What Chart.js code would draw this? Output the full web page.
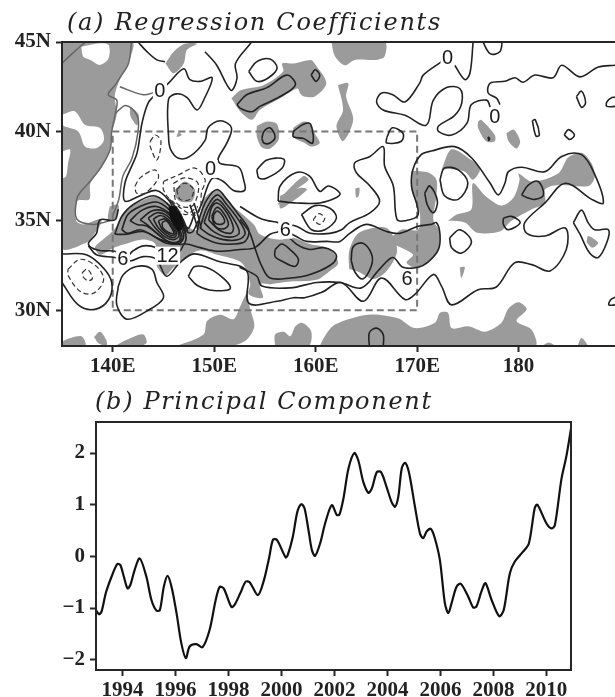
<!DOCTYPE html>
<html lang="en">
<head>
<meta charset="UTF-8">
<title>Regression Coefficients and Principal Component</title>
<script src="https://cdn.jsdelivr.net/npm/chart.js"></script>
<style>
    html, body { margin: 0; padding: 0; background: #fff; overflow: hidden; }
    #page { position: relative; width: 615px; height: 697px; }
    canvas { position: absolute; left: 0; }
    #chartA { top: 0; }
    #chartB { top: 380px; }
    .panelTitle { position: absolute; font: italic 24px "DejaVu Serif", serif; color: #222; white-space: nowrap; letter-spacing: 1.7px; line-height: 28px; }
</style>
</head>
<body>
<div id="page">
    <canvas id="chartA" width="615" height="380"></canvas>
    <canvas id="chartB" width="615" height="317"></canvas>
    <div class="panelTitle" style="left:67px; top:8px">(a) Regression Coefficients</div>
    <div class="panelTitle" style="left:95px; top:387px">(b) Principal Component</div>
</div>
<script>
// axes
const lonTicks = [140, 150, 160, 170, 180];
const lonLabels = ['140E', '150E', '160E', '170E', '180'];
const latTicks = [30, 35, 40, 45];
const latLabels = ['30N', '35N', '40N', '45N'];
const pcTicks = [-2, -1, 0, 1, 2];
const pcLabels = ['\u22122', '\u22121', '0', '1', '2'];
const yearTicks = [1994, 1996, 1998, 2000, 2002, 2004, 2006, 2008, 2010];
const yearLabels = ['1994', '1996', '1998', '2000', '2002', '2004', '2006', '2008', '2010'];

// panel b, principal component
const pcYears = [1993, 1993.11, 1993.21, 1993.37, 1993.59, 1993.8, 1993.92, 1994.05, 1994.19, 1994.3, 1994.46, 1994.65, 1994.9, 1995.09, 1995.28, 1995.41, 1995.56, 1995.7, 1995.85, 1996.04, 1996.22, 1996.39, 1996.54, 1996.79, 1997.02, 1997.29, 1997.52, 1997.67, 1997.82, 1998.11, 1998.23, 1998.45, 1998.65, 1998.8, 1999.11, 1999.34, 1999.53, 1999.68, 1999.83, 2000.16, 2000.24, 2000.43, 2000.6, 2000.75, 2000.87, 2001.02, 2001.15, 2001.27, 2001.46, 2001.65, 2001.9, 2002.09, 2002.19, 2002.34, 2002.53, 2002.75, 2002.9, 2003.09, 2003.28, 2003.41, 2003.6, 2003.76, 2003.97, 2004.16, 2004.29, 2004.41, 2004.54, 2004.66, 2004.81, 2005.04, 2005.23, 2005.35, 2005.48, 2005.64, 2005.79, 2005.98, 2006.17, 2006.3, 2006.42, 2006.61, 2006.77, 2007.05, 2007.24, 2007.36, 2007.55, 2007.7, 2007.93, 2008.22, 2008.39, 2008.62, 2008.81, 2009.12, 2009.34, 2009.56, 2009.66, 2010, 2010.19, 2010.32, 2010.57, 2010.76, 2010.93];
const pcValues = [-1.04, -1.12, -1.07, -0.71, -0.39, -0.15, -0.17, -0.39, -0.62, -0.55, -0.26, -0.04, -0.39, -0.84, -1.05, -1.04, -0.59, -0.38, -0.59, -1.1, -1.68, -1.97, -1.74, -1.7, -1.76, -1.42, -0.84, -0.59, -0.62, -0.98, -0.94, -0.71, -0.49, -0.5, -0.75, -0.46, -0.04, 0.32, 0.32, -0.02, 0.03, 0.38, 0.86, 1.01, 0.93, 0.51, 0.12, 0.01, 0.25, 0.64, 0.99, 0.8, 0.81, 1.12, 1.7, 2, 1.86, 1.44, 1.23, 1.31, 1.63, 1.63, 1.34, 1.05, 0.96, 1.15, 1.7, 1.81, 1.63, 0.96, 0.44, 0.35, 0.48, 0.53, 0.35, -0.07, -0.91, -1.1, -0.91, -0.59, -0.53, -0.78, -0.99, -0.97, -0.68, -0.52, -0.84, -1.16, -1.04, -0.33, -0.1, 0.09, 0.25, 0.93, 1, 0.64, 0.54, 0.6, 1.5, 1.95, 2.47];

// panel a, shaded areas [lon, lat]
const shadeLand = [[135, 45], [141.9, 45], [141.5, 43.8], [140.7, 42.9], [140.2, 42], [140.4, 41], [139.9, 39.9], [139.7, 39], [138.9, 38], [137.8, 37.1], [137.7, 36.2], [136.5, 36.1], [136.4, 35], [137.1, 34.8], [138.75, 35.1], [138.9, 34.9], [138.1, 34.2], [137.5, 33.8], [135, 33.5]];
const shadeBand = [[138.5, 33.7], [140.2, 34.55], [141.05, 35.45], [144, 36.35], [146, 35.7], [147, 34.85], [148.3, 34.5], [149, 36.2], [150.3, 36.75], [151.9, 35.8], [153.9, 34.8], [154.5, 34.25], [156.3, 33.95], [157.8, 34.05], [159.4, 33.7], [161.1, 33.5], [161.9, 33.1], [162.2, 32.6], [161.4, 32.2], [160.1, 31.7], [157.5, 31.6], [155.5, 31.45], [154.5, 31.45], [154.8, 30.7], [153.4, 30.9], [153.55, 31.5], [152.7, 32.65], [150.3, 33.1], [148.6, 33.35], [147.1, 32.9], [146, 32.4], [145.2, 31.95], [144.3, 32.55], [144.2, 33.7], [143, 33.95], [141.5, 33.75], [140.1, 33.5], [138.75, 33.1], [138.25, 33.5]];
const shadeBand2 = [[163.3, 32.3], [163.3, 33.3], [164.1, 34.25], [165.6, 34.6], [167, 34.6], [167.8, 33.95], [168, 33.2], [167, 32.2], [165.7, 31.75], [164.4, 32.1]];
const shadeMid = [[169.45, 37.8], [171.1, 37.7], [171.9, 37.3], [171.9, 36.4], [171.6, 35.05], [172.25, 34.35], [171.9, 33.2], [170.1, 32.35], [168.95, 32.65], [169.6, 33.1], [168.45, 33.5], [167.3, 33.85], [168.45, 34.5], [170.1, 34.5], [170.25, 35.45], [169.45, 36.75]];
const shadeEast = [[173.05, 35], [173.9, 35.35], [175.35, 35.65], [175.5, 37.1], [176.7, 36.4], [178.3, 35.85], [179.5, 36.3], [180.1, 37.3], [180, 37.65], [181.3, 37.2], [183.9, 37.65], [184.9, 38.55], [186.2, 38.8], [187.2, 38.2], [187.5, 37.45], [186.9, 36.95], [183.9, 37], [182.6, 36.75], [182.6, 36], [181.3, 35.65], [179.3, 35], [178.15, 34.4], [175.85, 34.35], [174.7, 34.9]];
const shadeEast2 = [[172.4, 37.85], [173.4, 39], [175.35, 38.4], [176.2, 37.9], [175.5, 37.3], [174.7, 37.75], [173.05, 37.9]];
const shadeNorthA = [[151.7, 41.85], [152.6, 42.3], [154.9, 42.6], [156.8, 43.35], [156.7, 43.8], [157.8, 43.8], [159.5, 44], [159.9, 43.8], [161.05, 42.7], [159.9, 41.95], [158.85, 41.95], [158.5, 42.1], [158.2, 42.4], [156.5, 41.85], [154.5, 41.2], [153.7, 40.65], [152.6, 41.1]];
const shadeNorthB = [[154.2, 40.3], [155.2, 40.55], [156.2, 40.4], [156.35, 39.55], [155.5, 39.05], [154.7, 39.1], [154.2, 39.7]];
const shadeNorthC = [[157.8, 40.2], [158.8, 40.55], [159.5, 40.45], [159.9, 39.9], [160.4, 39.35], [159.6, 39.15], [158.9, 39.35], [157.8, 39.7]];
const shadeNorthD = [[161.55, 45], [166.8, 45], [166.8, 44.2], [166, 44], [163.85, 44], [162.85, 43.7], [161.9, 44.2]];
const shadeNorthE = [[162.2, 42.6], [163.2, 42.7], [163, 41.95], [163.7, 40.65], [162.7, 39.45], [162.05, 40.3], [162.7, 41.2]];
const shadeHokkaido = [[145.2, 43.8], [146, 44.45], [147.1, 44.9], [148.3, 44.9], [147.3, 44.55], [147, 43.8], [146, 43.25]];
const shadeIsle1 = [[141.7, 41.4], [142.55, 40.95], [142.4, 40.35], [141.75, 40.85]];
const shadeIsle2 = [[139.7, 35.8], [140.55, 35.9], [140.4, 35.2], [139.55, 35.1]];
const shadeSmall1 = [[176, 40.55], [176.3, 40.65], [177.65, 39.8], [177.65, 39.45], [176.8, 39.45], [176, 40.2]];
const shadeSmall2 = [[178.8, 39.9], [179.5, 40.1], [180.15, 39.45], [179.8, 39.05], [179, 39.45]];
const shadeSmall3 = [[156.5, 36.4], [158.5, 36.85], [159.15, 36.75], [157.5, 36], [156.5, 35.7]];
const shadeSmall4 = [[156.8, 36.45], [158.8, 37.5], [159.3, 37.3], [158.1, 36.75], [157.3, 36.2], [156.3, 35.9]];
const shadeSmall5 = [[146.15, 36.75], [147.1, 37.2], [148.1, 36.75], [147.8, 36.1], [146.6, 36.1], [146.15, 36.4]];
const shadeSmall6 = [[186.7, 33.8], [186.85, 34.15], [187.5, 33.95], [187.85, 33.75], [187.25, 33.5]];
const shadeSmall7 = [[174.2, 32.4], [174.7, 32.4], [174.35, 31.8]];
const shadeSmall8 = [[146.5, 40], [146.8, 39.8], [146.3, 39.7]];
const shadeSmall9 = [[163.9, 36.8], [164.3, 36.85], [164.25, 36.4], [164, 36.3]];
const shadeSouth1 = [[135, 28], [135, 28.25], [136.9, 28.55], [137.3, 28]];
const shadeSouth2 = [[138.15, 28.5], [138.75, 28.8], [139.35, 28.35], [139.4, 28], [138.6, 28.15]];
const shadeSouth3 = [[140.2, 28], [141.4, 28.35], [143, 28.65], [143.35, 28.2], [142.7, 28]];
const shadeSouth4 = [[146.3, 28], [148.95, 28.65], [149.3, 29.4], [150.6, 29.75], [151.9, 29.5], [152.55, 30.2], [153.2, 30.9], [153.55, 30.05], [153.95, 29.1], [153.2, 28.35], [151.6, 28]];
const shadeSouth5 = [[156, 28], [156, 28.65], [156.85, 28.8], [157.5, 28.55], [158, 29.1], [158.65, 29.3], [159.5, 28.9], [159.6, 28.4], [159.3, 28]];
const shadeSouth6 = [[160.4, 28], [160.9, 28.55], [161.9, 29.2], [165.15, 29.75], [168.1, 29.55], [169.75, 29], [171.75, 29.3], [172.25, 29.85], [173.05, 29.85], [173.4, 29], [175.05, 29.1], [176.7, 28.8], [178.3, 29.3], [179, 30.1], [180, 30.45], [180.8, 30.05], [179.8, 29.4], [181.3, 28.9], [181.6, 28]];
const shadeSouth7 = [[182.3, 28], [182.95, 28.2], [183.6, 28]];
const shadeSouth8 = [[185.8, 28], [186.2, 28.45], [186.8, 28]];
// white gaps inside the land shading
const gapLand1 = [[136.9, 44.74], [138.75, 44.93], [139.6, 44.83], [139.6, 44.09], [138.75, 43.72], [137.8, 44], [137.1, 44.18]];
const gapLand2 = [[135, 40.93], [136.28, 41.12], [137.27, 40.37], [138.75, 40.19], [139.14, 39.54], [138.42, 39.07], [137.27, 39.16], [136.6, 40], [135, 40.37]];
const gapLand3 = [[135, 38.88], [135.8, 38.98], [135.6, 38.23], [135.4, 37.49], [135, 37.4]];
// black knot on the front
const shadeKnot = [[145.5, 35.8], [146.3, 35.8], [147, 34.75], [146.5, 34.4], [145.7, 35.1]];

// panel a, solid contours
const lineMain0a = [[146.1, 35.4], [145.6, 36.1], [144.3, 36.7], [142.7, 36.4], [141.2, 36.1], [141.2, 37.1], [141.9, 38.1], [142.4, 38.8], [142.9, 40.5], [143.5, 41.6], [144.3, 42.1], [145.5, 42.7], [147, 43.5], [147.6, 42.9], [148.6, 42.8], [149.8, 43], [149, 41.8], [148.3, 41.2], [147.3, 41.9], [146.3, 42.1], [145.5, 41.8], [145.5, 39.7], [145.7, 39], [146.5, 38.5], [147.6, 38.6], [149.1, 39.5], [149.4, 40.2], [150.6, 40.6], [151.7, 40.2], [151.2, 39.3], [150.4, 38.5], [150.6, 38.2], [152.4, 38], [152.9, 37.3], [153, 36.7], [151.9, 36.7], [150.9, 37.2], [149.9, 37.4], [149.4, 37], [148.8, 36], [148.4, 35.5]];
const lineTopDip = [[149.1, 44.45], [150.25, 43.7], [151.25, 42.6], [151.75, 42.3], [152.25, 43], [152.1, 43.8], [153.55, 44.9], [153.8, 45.1]];
const lineCoastN = [[142.5, 45], [143.3, 44.5], [144.35, 44], [145.15, 43.9]];
const lineOvalA = [[153.4, 43.35], [154.2, 43.9], [155.5, 44.05], [156.2, 43.55], [155.35, 43], [154.2, 42.8], [153.4, 43.35]];
const lineOvalB = [[152.25, 41.5], [153.2, 42.05], [155.2, 42.45], [157.15, 43.15], [158, 42.6], [156.5, 41.95], [154.5, 41.4], [153.7, 41.1], [152.55, 41.3], [152.25, 41.5]];
const lineOvalC = [[154.7, 39.6], [154.9, 40], [155.5, 40.2], [156, 39.7], [155.5, 39.35], [154.9, 39.35], [154.7, 39.6]];
const lineOvalD = [[157.8, 40], [158.8, 40.4], [159.5, 40.4], [159.7, 39.35], [158.8, 39.6], [157.8, 39.7], [157.8, 40]];
const lineOvalE = [[154.2, 37.85], [155.2, 38.4], [156.85, 38.45], [156.7, 37.95], [155.2, 37.4], [154.4, 37.4], [154.2, 37.85]];
const lineOvalF = [[159.55, 43.15], [159.95, 43.45], [160.4, 43.15], [160.05, 42.8], [159.55, 43.15]];
const lineOvalG = [[156.3, 36.1], [156.5, 36.95], [158.1, 37.7], [159.4, 37.5], [160.4, 36.65], [161.25, 36.95], [162.4, 36.55], [162.05, 36.3], [160.4, 36], [158.1, 36], [156.3, 36.1]];
const lineNorth0 = [[172.4, 43.9], [170.6, 43.15], [170.25, 42.7], [168.8, 41.65], [167.6, 42.05], [166.5, 42.15], [166, 41.65], [166.65, 41.2], [168.8, 40.9], [170.9, 40.35], [171.6, 41.75], [172.9, 42.45], [174.2, 42.4], [174.4, 41.6], [173.7, 40.9], [172.1, 40.3], [172.1, 40], [173.4, 39.8], [174.9, 40.45], [175.35, 41.5], [176.85, 41.75], [177.2, 41.35]];
const lineNorth0b = [[173.7, 43.7], [174.7, 42.9], [175.2, 43.25], [175.5, 44.9], [175.5, 45.1]];
const lineTopLoop = [[176.4, 45.1], [177.2, 44.35], [178.15, 44.45], [178.4, 45.1]];
const lineNorthEast = [[178.15, 41.5], [177.85, 41.85], [177, 42.15], [177.2, 42.7], [178.65, 42.8], [179.65, 43], [180.45, 42.75], [181.6, 43.15], [183.4, 43], [184.25, 43.7], [186.05, 43.05], [187.85, 43.6], [189.5, 43.7]];
const lineSmallA = [[185.7, 41.95], [186.2, 42.25], [186.6, 41.6], [186.2, 41.35], [185.7, 41.95]];
const lineSmallB = [[189.6, 41.9], [189.2, 41.9], [188.7, 41.65], [188.7, 41.4], [189.6, 41.4]];
const lineSmallC = [[181.35, 40.6], [181.65, 40.65], [182.05, 39.8], [181.7, 39.75], [181.35, 40.6]];
const lineSmallD = [[184.5, 39.8], [184.9, 40.1], [185.5, 39.8], [185.05, 39.55], [184.5, 39.8]];
const lineSmallE = [[167, 39.65], [167.55, 40.2], [168.6, 39.9], [168.45, 39.45], [167, 39.35], [167, 39.65]];
const lineSmallF = [[177, 39.7], [177.15, 39.6], [177.05, 39.5], [177, 39.7]];
const lineLoopG = [[172.25, 37.3], [172.7, 37.95], [174.05, 37.85], [175, 37.1], [174.05, 36.2], [172.7, 36.4], [172.25, 37.3]];
const lineLoopH = [[180.3, 36.45], [180.95, 37], [181.95, 37.2], [182.45, 36.45], [181.6, 36.2], [180.8, 36.3], [180.3, 36.45]];
const lineLoopI = [[178.5, 35.15], [179.3, 35.25], [180.15, 34.9], [179, 34.5], [178.5, 34.8], [178.5, 35.15]];
const lineLoopJ = [[173.2, 34.05], [174.2, 34.5], [175.35, 33.85], [174.4, 33.2], [173.4, 33.5], [173.2, 34.05]];
const lineLoopK = [[163.5, 32.8], [163.7, 33.55], [164.65, 33.75], [165.5, 33.15], [165.5, 32.5], [164.65, 31.75], [163.85, 32.15], [163.5, 32.8]];
const lineLoopL = [[185.4, 34.9], [186.2, 35.6], [186.85, 34.9], [187.5, 34.5], [188.85, 34.5], [188.7, 33.8], [187.85, 32.95], [187, 33.2], [186.05, 34.25], [185.4, 34.9]];
const lineLoopM = [[170.75, 36.55], [171.25, 36.95], [172, 36.1], [171.6, 35.45], [171, 35.9], [170.75, 36.55]];
const lineLoopN = [[158.6, 35.35], [159.95, 35.85], [161.4, 35.7], [162.05, 35.15], [160.9, 34.5], [159.6, 34.5], [158.6, 35.35]];
const lineLoopO = [[156, 33.4], [156.65, 33.7], [157.45, 33.4], [158.3, 32.85], [157.95, 32.45], [156.65, 32.75], [156, 33], [156, 33.4]];
const lineLoopP = [[165.3, 27.9], [165.3, 28.75], [166, 29], [166.65, 28.65], [166.65, 27.9]];
const lineLoopQ = [[140.55, 31.35], [141.05, 32], [142.35, 32.45], [143.85, 32.3], [144.35, 31.55], [145, 30.7], [143.35, 29.95], [141.4, 29.5], [140.4, 30.3], [140.55, 31.35]];
const lineLoopR = [[147.45, 31.9], [148.1, 32.45], [149.95, 32.2], [151.6, 31.25], [149.95, 31.1], [148.3, 31.4], [147.45, 31.9]];
const lineLoopS = [[135, 33.15], [137.4, 33.1], [139.1, 32.35], [139.9, 31.55], [139.6, 30.6], [138.25, 30.05], [136.6, 30.3], [135, 31.55]];
const lineEdge = [[189.6, 30.75], [189.1, 30.6], [188.9, 30.3], [189.6, 30.3]];
const lineWave = [[137.6, 33.6], [138.4, 33.1], [140.2, 32.95], [141.7, 32.75], [143, 33], [144.3, 32.85], [145.3, 31.9], [146.6, 32.65], [148, 33.15], [150.3, 32.75], [153.2, 32.2], [153.4, 30.4], [156.2, 30.5], [157.8, 30.7], [158.9, 30.7], [160.6, 31], [162.5, 31.55], [164.7, 30.5], [166.5, 31.8], [168.8, 30.6], [169.8, 30.9], [171.6, 32], [172.4, 31.35], [173.4, 30.3], [176, 31.15], [177.8, 31.3], [179.6, 32.65], [181.3, 32.55], [183.1, 32.2], [184.7, 33.4], [184.6, 34.6], [182.6, 34.15], [180.8, 34.3], [180.6, 34.9], [182.6, 36], [184.6, 37.1], [187.2, 36.2], [188.35, 36], [187.5, 37.6], [186.2, 38.7], [184.25, 38.6], [182.6, 37.75], [180.3, 38], [179, 37.75], [178.65, 37.1], [178, 36.45], [177.2, 37.1], [175.4, 38.5], [173.7, 39.15], [171.4, 38.9], [170.4, 38.7], [169.6, 37.9], [169.45, 36.93], [170.1, 35.35], [168.8, 35], [168, 35.1], [167.65, 36.95], [166.8, 38.05], [166.65, 39.15], [165.35, 38.6], [163.85, 38.25], [164, 37.7], [165.35, 36.95], [166.3, 36.1], [165.35, 35.45], [163.35, 34.9], [162.55, 34.5], [161.4, 34.3], [159.45, 34.3], [158.1, 34.7], [156.3, 34.9], [154.5, 35.15], [152.55, 35.8]];
const lineFront6a = [[152.5, 32.4], [154.2, 31.9], [154.7, 31.35], [157.5, 31.25], [160.1, 31.55], [162.4, 31.55], [164.5, 31.25], [166.3, 32.3], [167.6, 32.95], [168.6, 32.4], [170.1, 32.4], [171.1, 32.7], [172.1, 33.4], [172.25, 34.25], [171.9, 34.9], [171.4, 34.8], [170.1, 34.7], [168.3, 34.3], [167, 34.4], [165, 34.8], [163.35, 34.3], [162.4, 33.85], [161.1, 33.85], [159.1, 33.85], [158, 34.15], [157.1, 34.4]];
const lineFront6b = [[140.55, 35.65], [140.2, 35.05], [138.75, 35.05], [138.4, 34.3], [137.6, 33.7], [138.6, 33.35], [140.2, 33.3], [141.4, 33], [141.95, 33.3], [143, 33.6], [144.3, 33.5], [145.3, 33.1], [146.6, 33.3], [147.1, 33.7], [148.6, 33.5], [150.3, 33.3], [152.55, 33.4], [154, 33.5], [155.5, 34.25], [156.5, 34.4]];
const lineFront9 = [[152.55, 35.07], [153.5, 34.33], [154, 33.5], [154.7, 32.45], [155.5, 31.8], [157.5, 31.8], [159.45, 32], [161.4, 32.5], [162.05, 32.95], [161.7, 33.3], [160.75, 33.5], [159.4, 33.4], [158.1, 33.7], [157.1, 34.25]];
const lineWestA = [[140.2, 34.25], [140.9, 35.25], [142, 35.9], [144, 36.4], [145.5, 35.9], [146.3, 35.25], [147.1, 34.5], [147.1, 33.75], [146.3, 33.7], [144.7, 33.95], [143, 34.4], [141.4, 34.25], [140.2, 34.25]];
const lineWestB = [[140.9, 34.5], [141.5, 35.35], [142.7, 35.8], [144.3, 36.05], [145.5, 35.65], [146.5, 34.9], [147, 34.15], [146.6, 33.75], [145.3, 33.75], [144, 34.15], [142.7, 34.5], [141.5, 34.3], [140.9, 34.5]];
const lineWestC = [[141.7, 35], [142.9, 35.6], [144.3, 35.8], [145.7, 35.35], [146.6, 34.5], [146.8, 33.95], [145.8, 33.75], [144.7, 34.15], [143.4, 34.7], [142.4, 34.8], [141.7, 35]];
const lineWestD = [[142.7, 35.05], [143.85, 35.55], [145, 35.55], [146, 35.05], [146.6, 34.3], [146.5, 33.85], [145.5, 33.85], [144.35, 34.3], [143.35, 34.8], [142.7, 35.05]];
const lineWestE = [[143.5, 35.15], [144.35, 35.45], [145.3, 35.3], [146.15, 34.7], [146.5, 34.15], [146, 33.95], [145.15, 34.1], [144.2, 34.6], [143.5, 35.15]];
const lineWestF = [[144, 35.1], [144.7, 35.3], [145.5, 35.05], [146.25, 34.4], [146.15, 34.1], [145.4, 34.15], [144.5, 34.6], [144, 35.1]];
const lineWestG = [[144.5, 35], [145.15, 35.1], [145.8, 34.7], [146.15, 34.25], [145.65, 34.2], [144.85, 34.55], [144.5, 35]];
const lineWestH = [[144.85, 34.9], [145.3, 35], [145.9, 34.5], [146, 34.3], [145.5, 34.35], [144.95, 34.6], [144.85, 34.9]];
const lineEastA = [[148.3, 34.3], [148.6, 35.25], [149.3, 36.2], [150.3, 36.75], [151.25, 36.2], [152.25, 35.45], [153.4, 34.5], [153.05, 33.85], [151.9, 33.7], [150.3, 33.75], [148.95, 34.05], [148.3, 34.3]];
const lineEastB = [[148.6, 34.6], [149.3, 35.75], [150.3, 36.45], [151.25, 35.9], [152.4, 35.05], [153.05, 34.3], [152.4, 33.95], [150.9, 33.95], [149.45, 34.25], [148.6, 34.6]];
const lineEastC = [[149, 34.9], [149.6, 35.75], [150.3, 36.2], [151.25, 35.65], [152.3, 34.7], [152.4, 34.25], [151.25, 34.1], [149.95, 34.4], [149, 34.9]];
const lineEastD = [[149.45, 35.05], [149.75, 35.75], [150.3, 36], [151.25, 35.45], [151.9, 34.6], [151.6, 34.3], [150.45, 34.5], [149.45, 35.05]];
const lineEastE = [[149.75, 35.25], [150.25, 35.75], [150.9, 35.45], [151.4, 34.8], [150.9, 34.55], [150.1, 34.7], [149.75, 35.25]];
const lineEastF = [[149.95, 35.35], [150.3, 35.55], [150.85, 35.25], [151, 34.9], [150.45, 34.8], [149.95, 35], [149.95, 35.35]];
const lineSaddleA = [[146.7, 35.4], [147.1, 34.75], [147.5, 34.6], [148.1, 35.5]];
const lineSaddleB = [[146.9, 34.9], [147.4, 34.35], [147.9, 34.4], [148.4, 35]];
const lineFanA = [[145.3, 36], [146, 35.6], [146.7, 34.9], [147.2, 34.2]];
const lineFanB = [[145.6, 36.2], [146.4, 35.6], [147, 35], [147.4, 34.4]];
const lineFanC = [[147.6, 35.9], [148.1, 35.1], [148.4, 34.5]];
const lineFanD = [[148, 36], [148.4, 35.3], [148.7, 34.6]];

// panel a, dashed contours
const dashA = [[142.2, 36.95], [142.7, 37.4], [144.15, 37.85], [144.5, 37.4], [143.2, 36.55], [142.35, 36.55], [142.2, 36.95]];
const dashB = [[145, 37.2], [146.6, 37.6], [148.1, 37.95], [149.1, 37.3], [148.75, 36.6], [148.6, 35.65], [147.95, 35.3], [145.65, 36.2], [145, 36.75], [145, 37.2]];
const dashC = [[146, 37.1], [147.1, 37.4], [148.4, 37.1], [148.1, 36], [147.45, 35.75], [146.3, 36], [146, 37.1]];
const dashD = [[146.3, 36.75], [147.1, 37.1], [147.95, 36.75], [147.6, 36.2], [146.65, 36.2], [146.3, 36.75]];
const dashE = [[143.7, 39.45], [144.2, 39.8], [144.75, 39.45], [144.35, 38.4], [143.7, 39.15], [143.7, 39.45]];
const dashF = [[135.6, 32.3], [136.8, 32.85], [138.4, 32.45], [139.1, 31.7], [138.1, 30.95], [136.8, 31.05], [135.6, 31.95], [135.6, 32.3]];
const dashG = [[137, 32.1], [137.5, 32.3], [138, 31.8], [137.6, 31.65], [137.1, 31.85], [137, 32.1]];
const dashH = [[159.75, 35.05], [160.3, 35.4], [160.9, 35.15], [160.4, 34.8], [159.75, 35.05]];
const dashI = [[145.8, 36], [147.1, 35.35], [148.4, 35.8]];

// panel a, coast and analysis box
const coastJapan = [[141.85, 45], [141.55, 43.8], [140.7, 43], [140.25, 42.6], [139.55, 42.05], [140.4, 41.75], [140.25, 41], [139.9, 40], [139.75, 39], [138.9, 38.05], [137.75, 37.2], [136.8, 36.6], [136.45, 36.2], [136.45, 35.1], [138.1, 34.8], [139.7, 35]];
const coastAsia = [[135, 43.8], [136, 44.35], [137.3, 45]];
const coastHokkaido = [[140.7, 42.5], [143, 42.05], [144.2, 42.2]];
const coastHonshu = [[140.25, 41], [141.3, 41.45], [142.4, 40.9], [142.5, 40], [141.9, 38.5], [141, 37.5], [140.6, 36.2], [140, 35.3]];
const boxLon = [140, 170, 170, 140, 140];
const boxLat = [30, 30, 40, 40, 30];

// contour labels
const labelLon = [144.65, 149.65, 173, 177.65, 141, 145.4, 157, 169];
const labelLat = [42.3, 37.9, 44.15, 40.85, 32.9, 33.05, 34.5, 31.8];
const labelText = ['0', '0', '0', '0', '6', '12', '6', '6'];

const shades = [shadeLand, shadeBand, shadeBand2, shadeMid, shadeEast, shadeEast2, shadeNorthA, shadeNorthB, shadeNorthC, shadeNorthD, shadeNorthE, shadeHokkaido, shadeIsle1, shadeIsle2, shadeSmall1, shadeSmall2, shadeSmall3, shadeSmall4, shadeSmall5, shadeSmall6, shadeSmall7, shadeSmall8, shadeSmall9, shadeSouth1, shadeSouth2, shadeSouth3, shadeSouth4, shadeSouth5, shadeSouth6, shadeSouth7, shadeSouth8];
const gaps = [gapLand1, gapLand2, gapLand3];
const solids = [lineMain0a, lineTopDip, lineCoastN, lineOvalA, lineOvalB, lineOvalC, lineOvalD, lineOvalE, lineOvalF, lineOvalG, lineNorth0, lineNorth0b, lineTopLoop, lineNorthEast, lineSmallA, lineSmallB, lineSmallC, lineSmallD, lineSmallE, lineSmallF, lineLoopG, lineLoopH, lineLoopI, lineLoopJ, lineLoopK, lineLoopL, lineLoopM, lineLoopN, lineLoopO, lineLoopP, lineLoopQ, lineLoopR, lineLoopS, lineEdge, lineWave, lineFront6a, lineFront6b, lineFront9, lineWestA, lineWestB, lineWestC, lineWestD, lineWestE, lineWestF, lineWestG, lineWestH, lineEastA, lineEastB, lineEastC, lineEastD, lineEastE, lineEastF, lineSaddleA, lineSaddleB, lineFanA, lineFanB, lineFanC, lineFanD];
const dashes = [dashA, dashB, dashC, dashD, dashE, dashF, dashG, dashH, dashI];
const coasts = [coastJapan, coastAsia, coastHokkaido, coastHonshu];

const tickFont = { family: '"Liberation Serif", serif', size: 21, weight: 'bold' };

function toPoints(list) {
    return list.map(function (p) { return { x: p[0], y: p[1] }; });
}

function lineSet(list, color, width, order, dash) {
    return {
        data: toPoints(list), showLine: true, fill: false, borderColor: color, borderWidth: width,
        borderDash: dash || [], pointRadius: 0, tension: 0.35, order: order
    };
}

function fillSet(list, color, order) {
    return {
        data: toPoints(list.concat([list[0]])), showLine: true, fill: 'shape', backgroundColor: color,
        borderColor: color, borderWidth: 0, pointRadius: 0, tension: 0.3, order: order
    };
}

// frame round the plot
const framePlugin = {
    id: 'frame',
    afterDraw: function (chart) {
        const a = chart.chartArea, ctx = chart.ctx;
        ctx.save();
        ctx.strokeStyle = '#262626';
        ctx.lineWidth = 2;
        ctx.strokeRect(a.left, a.top, a.right - a.left + (chart.canvas.id === 'chartA' ? 4 : 0), a.bottom - a.top);
        ctx.restore();
    }
};

// contour labels sit in white boxes, through the chart scales
const labelPlugin = {
    id: 'contourLabels',
    afterDatasetsDraw: function (chart) {
        const ctx = chart.ctx;
        ctx.save();
        ctx.font = '20px "Liberation Sans", sans-serif';
        ctx.textAlign = 'center';
        ctx.textBaseline = 'middle';
        labelText.forEach(function (t, i) {
            const x = chart.scales.x.getPixelForValue(labelLon[i]);
            const y = chart.scales.y.getPixelForValue(labelLat[i]);
            const w = ctx.measureText(t).width + 3;
            ctx.fillStyle = '#fff';
            ctx.fillRect(x - w / 2, y - 9, w, 18);
            ctx.fillStyle = '#1a1a1a';
            ctx.fillText(t, x, y + 1);
        });
        ctx.restore();
    }
};

function axis(min, max, ticks, labels, isX, fixed) {
    return {
        type: 'linear', min: min, max: max,
        afterBuildTicks: function (s) { s.ticks = ticks.map(function (v) { return { value: v }; }); },
        afterFit: function (s) { if (isX) { s.height = fixed; } else { s.width = fixed; } },
        grid: { drawOnChartArea: false, tickLength: 6, tickColor: '#262626', tickWidth: 2 },
        border: { color: '#262626', width: 2 },
        ticks: {
            autoSkip: false, maxRotation: 0, color: '#222', font: tickFont, padding: isX ? 2 : 5,
            callback: function (v) { return labels[ticks.indexOf(v)]; }
        }
    };
}

const setsA = [];
dashes.forEach(function (d) { setsA.push(lineSet(d, '#333', 1.2, 2, [5, 3])); });
solids.forEach(function (s) { setsA.push(lineSet(s, '#222', 1.6, 3)); });
setsA.push(lineSet(boxLon.map(function (v, i) { return [v, boxLat[i]]; }), '#777', 2, 4, [7, 4]));
setsA[setsA.length - 1].tension = 0;
coasts.forEach(function (c) { setsA.push(lineSet(c, '#666', 1.5, 5)); });
setsA.push(fillSet(shadeKnot, '#111', 2.5));
gaps.forEach(function (g) { setsA.push(fillSet(g, '#fff', 7)); });
shades.forEach(function (s) { setsA.push(fillSet(s, '#9b9b9b', 8)); });

new Chart(document.getElementById('chartA'), {
    type: 'scatter',
    data: { datasets: setsA },
    options: {
        responsive: false, animation: false, events: [],
        layout: { padding: { top: 42, right: 0, bottom: 0, left: 0 } },
        plugins: { legend: { display: false }, tooltip: { enabled: false } },
        scales: {
            x: axis(135, 189.5, lonTicks, lonLabels, true, 34),
            y: axis(28, 45, latTicks, latLabels, false, 62)
        }
    },
    plugins: [framePlugin, labelPlugin]
});

new Chart(document.getElementById('chartB'), {
    type: 'scatter',
    data: {
        datasets: [{
            data: pcYears.map(function (y, i) { return { x: y, y: pcValues[i] }; }),
            showLine: true, borderColor: '#111', borderWidth: 2.2, pointRadius: 0, tension: 0.3
        }]
    },
    options: {
        responsive: false, animation: false, events: [],
        layout: { padding: { top: 42, right: 44, bottom: 0, left: 0 } },
        plugins: { legend: { display: false }, tooltip: { enabled: false } },
        scales: {
            x: axis(1993, 2010.93, yearTicks, yearLabels, true, 27),
            y: axis(-2.2, 2.6, pcTicks, pcLabels, false, 96)
        }
    },
    plugins: [framePlugin]
});
</script>
</body>
</html>
